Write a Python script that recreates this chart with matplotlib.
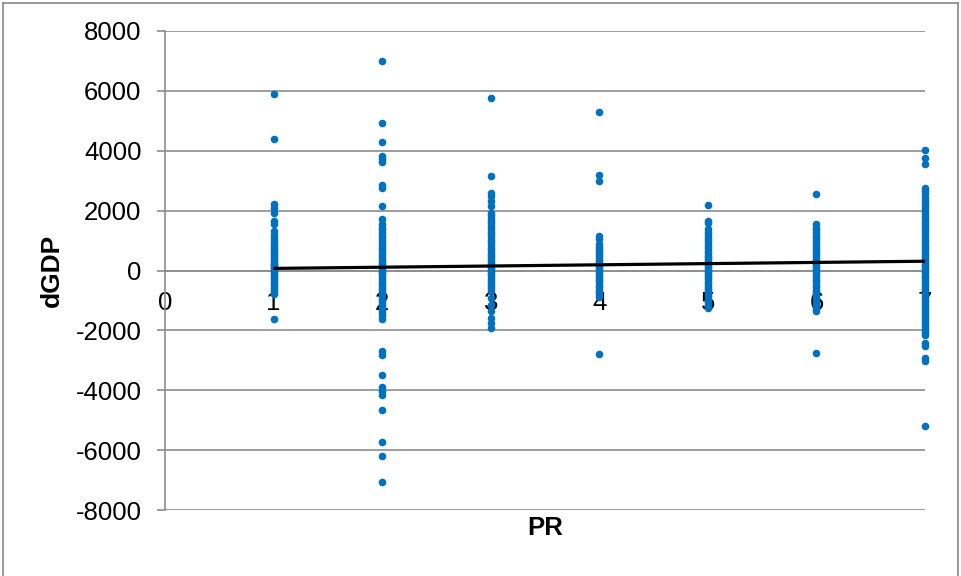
import matplotlib.pyplot as plt
from matplotlib.lines import Line2D

plt.rcParams['font.family'] = ['Liberation Sans', 'DejaVu Sans']
plt.rcParams['axes.unicode_minus'] = False

# dGDP values, grouped by PR score
pr1 = [5890, 4380, 2210, 2100, 1930, 1650, 1540, 1315, 1180, 1090, 980, 900, 820,
       760, 690, 610, 540, 470, 410, 350, 290, 230, 180, 120, 70, 20, -30, -90,
       -150, -210, -280, -350, -420, -500, -580, -660, -730, -800, -1605]
pr2 = [7000, 4940, 4290, 3820, 3710, 3620, 2850, 2770, 2150, 1710, 1540, 1430,
       1340, 1250, 1160, 1070, 980, 890, 800, 720, 640, 560, 480, 400, 330, 260,
       190, 120, 60, 0, -60, -130, -200, -270, -340, -420, -500, -580, -660, -740,
       -820, -900, -980, -1060, -1140, -1230, -1320, -1400, -1470, -1605, -2700,
       -2830, -3480, -3900, -4010, -4150, -4670, -5740, -6180, -7050]
pr3 = [5750, 3160, 2600, 2490, 2320, 2150, 1930, 1840, 1750, 1660, 1570, 1480,
       1390, 1300, 1210, 1120, 1030, 940, 850, 760, 680, 600, 520, 440, 360, 290,
       220, 150, 80, 10, -60, -130, -200, -270, -350, -430, -510, -580, -690,
       -910, -1140, -1360, -1580, -1750, -1920]
pr4 = [5300, 3190, 2990, 1150, 1040, 870, 790, 710, 630, 550, 470, 400, 330,
       260, 190, 120, 50, -20, -90, -160, -240, -320, -400, -480, -560, -640,
       -720, -800, -880, -2780]
pr5 = [2190, 1650, 1600, 1370, 1280, 1190, 1100, 1010, 920, 830, 740, 660, 580,
       500, 420, 340, 270, 200, 130, 60, -10, -80, -150, -220, -300, -380, -460,
       -540, -620, -700, -780, -860, -940, -1020, -1100, -1180, -1250]
pr6 = [2550, 1560, 1430, 1340, 1250, 1160, 1070, 980, 890, 800, 720, 640, 560,
       480, 400, 330, 260, 190, 120, 50, -20, -90, -160, -240, -320, -400, -480,
       -560, -640, -720, -800, -880, -960, -1040, -1120, -1200, -1280, -1360,
       -2750]
pr7 = [4010, 3750, 3550, 2770, 2650, 2540, 2430, 2320, 2220, 2120, 2020, 1920,
       1820, 1720, 1620, 1520, 1420, 1320, 1220, 1120, 1020, 920, 830, 740, 650,
       560, 470, 390, 310, 230, 150, 70, -10, -90, -170, -250, -340, -430, -520,
       -610, -700, -790, -880, -970, -1060, -1150, -1240, -1330, -1420, -1510,
       -1600, -1690, -1780, -1870, -1960, -2050, -2140, -2420, -2530, -2920,
       -3030, -5180]

groups = [pr1, pr2, pr3, pr4, pr5, pr6, pr7]

# linear trend line endpoints
trend_x = [1, 7]
trend_y = [70, 310]

xs = []
ys = []
for i, g in enumerate(groups):
    xs += [i + 1] * len(g)
    ys += g

fig = plt.figure(figsize=(9.61, 5.76), dpi=100)
ax = fig.add_axes([165 / 961, 1 - 510 / 576, 760 / 961, 479 / 576])

grid_c = '#8c8c8c'
ax.scatter(xs, ys, s=30, color='#0070C0', linewidths=0, zorder=3, clip_on=False)
ax.plot(trend_x, trend_y, color='black', lw=2.3, zorder=4, solid_capstyle='butt')

ax.set_xlim(0, 7)
ax.set_ylim(-8000, 8000)
ax.set_yticks(range(-8000, 8001, 2000))
ax.set_xticks(range(0, 8))
ax.yaxis.grid(True, color=grid_c, lw=1.2)
ax.set_axisbelow(True)

for s in ['top', 'right']:
    ax.spines[s].set_visible(False)
ax.spines['left'].set_color(grid_c)
ax.spines['left'].set_linewidth(1.2)
ax.spines['bottom'].set_position(('data', 0))
ax.spines['bottom'].set_color(grid_c)
ax.spines['bottom'].set_linewidth(1.2)

ax.tick_params(axis='y', direction='out', length=6, width=1.2, color=grid_c,
               labelsize=18.5, pad=11)
ax.tick_params(axis='x', length=0, labelsize=18.5, pad=15)

ax.text(0.5, -0.0376, 'PR', transform=ax.transAxes, ha='center', va='center',
        fontsize=18.5, fontweight='bold')
fig.text(52 / 961, 1 - 270 / 576, 'dGDP', rotation=90, ha='center', va='center',
         fontsize=19, fontweight='bold')

# outer chart border (left, top, right)
bc = '#888888'
fig.add_artist(Line2D([3 / 961, 3 / 961], [0, 1 - 3 / 576], color=bc, lw=1.2))
fig.add_artist(Line2D([3 / 961, 958 / 961], [1 - 3 / 576, 1 - 3 / 576], color=bc, lw=1.2))
fig.add_artist(Line2D([958 / 961, 958 / 961], [0, 1 - 3 / 576], color=bc, lw=1.2))

fig.savefig('out.png', dpi=100)
